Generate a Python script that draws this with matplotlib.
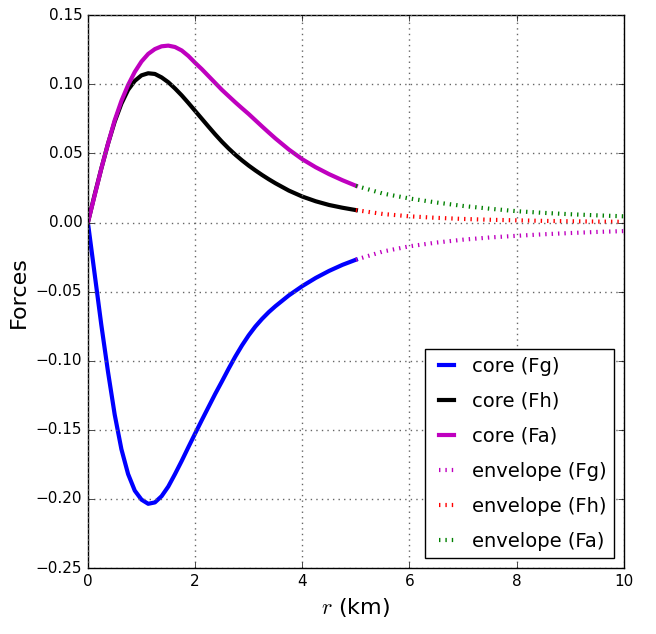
import matplotlib
matplotlib.use('Agg')
import matplotlib.pyplot as plt

# core region, r from 0 to 5 km
r_core = [0.0, 0.125, 0.25, 0.375, 0.5, 0.625, 0.75, 0.875, 1.0, 1.125,
          1.25, 1.375, 1.5, 1.625, 1.75, 1.875, 2.0, 2.125, 2.25, 2.375,
          2.5, 2.625, 2.75, 2.875, 3.0, 3.125, 3.25, 3.375, 3.5,
          3.75, 4.0, 4.25, 4.5, 4.75, 5.0]
fg_core = [0.0, -0.037, -0.074, -0.108, -0.139, -0.164, -0.182, -0.194,
           -0.2005, -0.2035, -0.2025, -0.198, -0.191, -0.182, -0.1725,
           -0.1625, -0.1527, -0.143, -0.1335, -0.124, -0.115, -0.1058,
           -0.0970, -0.0889, -0.0816, -0.0752, -0.0697, -0.0648, -0.0605,
           -0.0527, -0.0460, -0.0401, -0.0350, -0.0306, -0.0269]
fh_core = [0.0, 0.020, 0.039, 0.057, 0.073, 0.086, 0.096, 0.1025, 0.1065,
           0.108, 0.1075, 0.105, 0.1015, 0.097, 0.092, 0.0865, 0.0808, 0.0751,
           0.0694, 0.0638, 0.0585, 0.0536, 0.0491, 0.0450, 0.0412, 0.0377,
           0.0344, 0.0313, 0.0284, 0.0231, 0.0188, 0.0154, 0.0127, 0.0107,
           0.009]
fa_core = [0.0, 0.0195, 0.039, 0.057, 0.074, 0.088, 0.0995, 0.109, 0.1165,
           0.122, 0.1255, 0.1275, 0.128, 0.127, 0.1245, 0.1205, 0.1156,
           0.111, 0.106, 0.101, 0.096, 0.0915, 0.087, 0.0827, 0.0785, 0.074,
           0.0695, 0.0651, 0.0608, 0.0528, 0.0458, 0.0400, 0.0350, 0.0306,
           0.0266]

# envelope region, r from 5 to 10 km
r_env = [5.0, 5.5, 6.0, 6.5, 7.0, 7.5, 8.0, 8.5, 9.0, 9.5, 10.0]
fg_env = [-0.0269, -0.021, -0.0172, -0.0145, -0.0124, -0.0108, -0.0096,
          -0.0085, -0.0076, -0.0068, -0.0062]
fh_env = [0.009, 0.0062, 0.0045, 0.0034, 0.0026, 0.002, 0.0016, 0.0012,
          0.0009, 0.0007, 0.0005]
fa_env = [0.0266, 0.021, 0.0174, 0.0145, 0.012, 0.010, 0.0082, 0.007,
          0.006, 0.0052, 0.0045]

plt.style.use('classic')
plt.rcParams['font.family'] = ['DejaVu Sans']

fig = plt.figure(figsize=(6.56, 6.34), dpi=100)
ax = fig.add_axes([0.134, 0.104, 0.817, 0.872])

dots = (0, (1, 3.6))
ax.plot(r_core, fg_core, color='b', lw=3, label='core (Fg)')
ax.plot(r_core, fh_core, color='k', lw=3, label='core (Fh)')
ax.plot(r_core, fa_core, color='m', lw=3, label='core (Fa)')
ax.plot(r_env, fg_env, color='m', lw=3, linestyle=dots, label='envelope (Fg)')
ax.plot(r_env, fh_env, color='r', lw=3, linestyle=dots, label='envelope (Fh)')
ax.plot(r_env, fa_env, color='g', lw=3, linestyle=dots, label='envelope (Fa)')

ax.set_xlim(0, 10)
ax.set_ylim(-0.25, 0.15)
ax.set_yticks([-0.25, -0.20, -0.15, -0.10, -0.05, 0.0, 0.05, 0.10, 0.15])
ax.grid(True, color='0.4', linestyle=':', lw=1)
ax.tick_params(labelsize=11)
ax.set_xlabel(r'$r$ (km)', fontsize=16)
ax.set_ylabel('Forces', fontsize=16, labelpad=5)
ax.legend(loc='lower right', fontsize=14, handlelength=1.4,
          handletextpad=0.6, labelspacing=0.82, borderaxespad=0.5)

fig.savefig('out.png', dpi=100)
